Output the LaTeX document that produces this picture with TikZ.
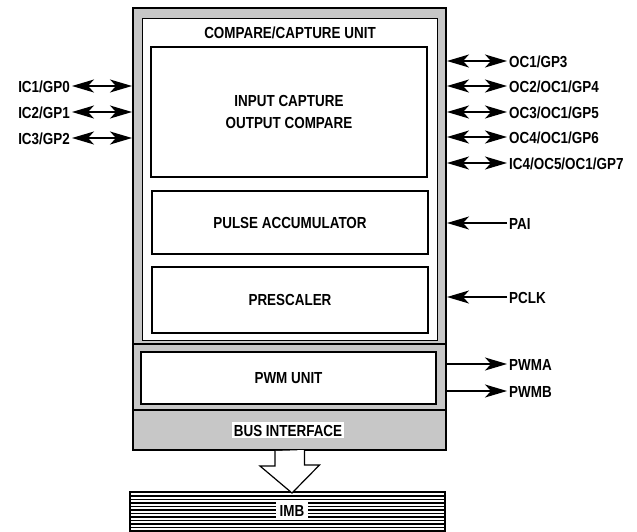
\documentclass[tikz,border=0pt]{standalone}
\usepackage{fontspec}
\setmainfont{Liberation Sans}[FakeStretch=0.84]
\usetikzlibrary{arrows.meta}

\begin{document}
\begin{tikzpicture}[x=1pt, y=-1pt, >={Stealth[length=22pt, width=13pt, inset=6pt]},
    txt/.style={font=\bfseries\fontsize{16}{22}\selectfont, text height=12pt, text depth=0pt, inner sep=2pt},
    dotfill/.style={fill=black!22},
    unitbox/.style={draw, line width=1.6pt, fill=white, minimum width=276pt, align=center,
      font=\bfseries\fontsize{16}{22}\selectfont},
    sig/.style={line width=1.3pt, ->},
    bisig/.style={line width=1.3pt, <->}]
    \useasboundingbox (0,0) rectangle (637,531);

    % module frame
    \node[draw, line width=2pt, dotfill, minimum width=313pt, minimum height=442pt, inner sep=0pt] (mcu) at (289.5, 229) {};
    \draw[fill=white, line width=0.8pt] (142, 18) rectangle (437, 340);
    \draw[line width=1.2pt] (133, 344) -- (446, 344);
    \draw[line width=1.2pt] (133, 410) -- (446, 410);
    \node[txt] (ccu) at (290, 32) {COMPARE/CAPTURE UNIT};

    \node[unitbox, minimum height=130pt] (icoc) at (289, 112) {INPUT CAPTURE\\OUTPUT COMPARE};
    \node[unitbox, minimum height=63pt] (pacc) at (290, 222.5) {PULSE ACCUMULATOR};
    \node[unitbox, minimum height=66pt] (presc) at (290, 300) {PRESCALER};
    \node[unitbox, minimum width=295pt, minimum height=52pt] (pwm) at (288.5, 378) {PWM UNIT};
    \node[txt, fill=white] (bus) at (288, 430) {BUS INTERFACE};

    % IMB
    \draw[line width=1.6pt] (130, 534) -- (130, 492) -- (445, 492) -- (445, 534);
    \foreach \y in {496, 499.5, ..., 532}
      \draw[line width=1.4pt] (130, \y) -- (445, \y);
    \node[txt, fill=white, inner xsep=4pt] (imb) at (292, 510) {IMB};
    \draw[line width=1.2pt, fill=white] (mcu.south) ++(-14.5, 0) -- ++(0, 15) -- ++(-15, 0)
      -- (imb |- 0, 493) -- ++(27.5, -28) -- ++(-15, 0) -- ++(0, -15);

    % left pins
    \node[txt, anchor=east] (ic1) at (72, 86) {IC1/GP0};
    \node[txt, anchor=east] (ic2) at (72, 112) {IC2/GP1};
    \node[txt, anchor=east] (ic3) at (72, 138) {IC3/GP2};
    \draw[bisig] (ic1) -- (ic1 -| mcu.west);
    \draw[bisig] (ic2) -- (ic2 -| mcu.west);
    \draw[bisig] (ic3) -- (ic3 -| mcu.west);

    % right pins
    \node[txt, anchor=west] (oc1) at (507, 61) {OC1/GP3};
    \node[txt, anchor=west] (oc2) at (507, 86) {OC2/OC1/GP4};
    \node[txt, anchor=west] (oc3) at (507, 112) {OC3/OC1/GP5};
    \node[txt, anchor=west] (oc4) at (507, 137) {OC4/OC1/GP6};
    \node[txt, anchor=west] (ic4) at (507, 163) {IC4/OC5/OC1/GP7};
    \node[txt, anchor=west] (pai) at (507, 223) {PAI};
    \node[txt, anchor=west] (pclk) at (507, 297) {PCLK};
    \node[txt, anchor=west] (pwma) at (507, 364) {PWMA};
    \node[txt, anchor=west] (pwmb) at (507, 391) {PWMB};
    \draw[bisig] (oc1 -| mcu.east) -- (oc1);
    \draw[bisig] (oc2 -| mcu.east) -- (oc2);
    \draw[bisig] (oc3 -| mcu.east) -- (oc3);
    \draw[bisig] (oc4 -| mcu.east) -- (oc4);
    \draw[bisig] (ic4 -| mcu.east) -- (ic4);
    \draw[sig] (pai) -- (pai -| mcu.east);
    \draw[sig] (pclk) -- (pclk -| mcu.east);
    \draw[sig] (pwma -| mcu.east) -- (pwma);
    \draw[sig] (pwmb -| mcu.east) -- (pwmb);
\end{tikzpicture}
\end{document}
